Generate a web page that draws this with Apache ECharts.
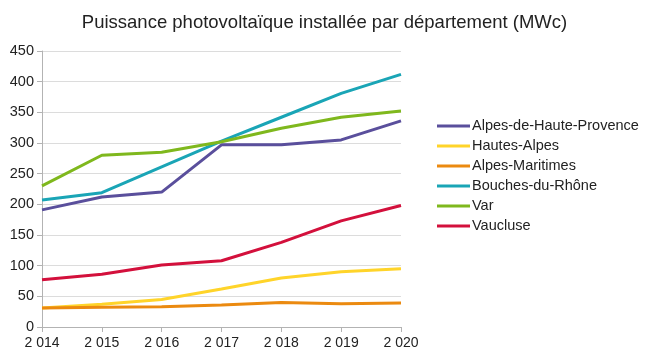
<!DOCTYPE html>
<html><head><meta charset="utf-8">
<script src="https://cdn.jsdelivr.net/npm/echarts@6/dist/echarts.min.js"></script>
<style>html,body{margin:0;padding:0;background:#fff}#c{width:649px;height:362px}</style>
</head><body><div id="c"></div>
<script>
const years = ['2 014','2 015','2 016','2 017','2 018','2 019','2 020'];
const yTicks = [0,50,100,150,200,250,300,350,400,450];
const names = ['Alpes-de-Haute-Provence','Hautes-Alpes','Alpes-Maritimes','Bouches-du-Rhône','Var','Vaucluse'];
const ahp = [191,212,220,297,297,305,336];
const ha = [31,37,45,62,80,90,95];
const am = [31,32,33,36,40,38,39];
const bdr = [207,219,261,303,342,381,412];
const varD = [230,280,285,302,324,342,352];
const vau = [77,86,101,108,138,173,198];
const colors = ['#5a4f9c','#ffd42a','#eb8a10','#1aa5b6','#7fb81d','#d3103c'];
const values = [ahp,ha,am,bdr,varD,vau];

const chart = echarts.init(document.getElementById('c'));
chart.setOption({
  animation:false,
  color: colors,
  title:{text:'Puissance photovoltaïque installée par département (MWc)',left:'center',top:8,
    textStyle:{fontFamily:'Liberation Sans',fontSize:18.5,fontWeight:'normal',color:'#222'}},
  grid:{left:42,right:248,top:51,bottom:35},
  legend:{orient:'vertical',left:432,top:113,itemGap:4,itemWidth:33,itemHeight:3,icon:'rect',
    textStyle:{fontFamily:'Liberation Sans',fontSize:14.5,lineHeight:16,color:'#222',padding:[0,0,0,-3]},
    data:names},
  xAxis:{type:'category',data:years,boundaryGap:false,
    axisLine:{lineStyle:{color:'#b3b3b3'}},
    axisTick:{show:true,length:5,lineStyle:{color:'#b3b3b3'}},
    axisLabel:{fontFamily:'Liberation Sans',fontSize:14,color:'#222',margin:9},
    splitLine:{show:false}},
  yAxis:{type:'value',min:0,max:450,interval:50,
    axisLine:{show:true,lineStyle:{color:'#b3b3b3'}},
    axisTick:{show:true,length:5,lineStyle:{color:'#b3b3b3'}},
    axisLabel:{fontFamily:'Liberation Sans',fontSize:14.5,color:'#222',margin:8,
      formatter:v=>yTicks.includes(v)?String(v):''},
    splitLine:{lineStyle:{color:'#dcdcdc'}}},
  series: names.map((n,i)=>({name:n,type:'line',data:values[i],showSymbol:false,symbol:'none',
    lineStyle:{width:3,color:colors[i]},itemStyle:{color:colors[i]}}))
});
</script></body></html>
